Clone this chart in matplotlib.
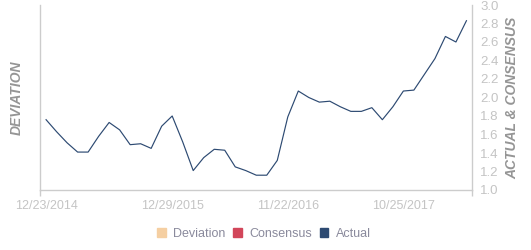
import matplotlib.pyplot as plt
from matplotlib.patches import Patch

plt.rcParams['font.family'] = ['Liberation Sans', 'DejaVu Sans']

# actual values, one per report (about monthly)
actual = [1.76, 1.63, 1.51, 1.41, 1.41, 1.58, 1.73, 1.65, 1.49, 1.50,
          1.45, 1.69, 1.80, 1.52, 1.21, 1.35, 1.44, 1.43, 1.25, 1.21,
          1.16, 1.16, 1.32, 1.79, 2.07, 2.00, 1.95, 1.96, 1.90, 1.85,
          1.85, 1.89, 1.76, 1.90, 2.07, 2.08, 2.25, 2.42, 2.66, 2.60,
          2.83]
date_ticks = [0, 12, 23, 34]
date_labels = ["12/23/2014", "12/29/2015", "11/22/2016", "10/25/2017"]
y_ticks = [1.0, 1.2, 1.4, 1.6, 1.8, 2.0, 2.2, 2.4, 2.6, 2.8, 3.0]

legend_names = ["Deviation", "Consensus", "Actual"]
legend_colors = ["#f5cfa2", "#d2465a", "#2d4a72"]

grey = "#cccccc"
label_grey = "#c4c4c4"
title_grey = "#959595"

fig = plt.figure(figsize=(5.31, 2.5), dpi=100)
ax = fig.add_axes([0.0759, 0.24, 0.8124, 0.74])

x = list(range(len(actual)))
ax.plot(x, actual, color="#2d4a72", linewidth=0.85)

ax.set_xlim(-0.55, len(actual) - 0.5)
ax.set_ylim(1.0, 3.0)

ax.spines["top"].set_visible(False)
for s in ["left", "right", "bottom"]:
    ax.spines[s].set_color(grey)
    ax.spines[s].set_linewidth(1)

# x axis: labels without ticks, small ticks only at the ends
ax.set_xticks(date_ticks)
ax.set_xticklabels(date_labels)
ax.set_xticks([-0.55, len(actual) - 0.5], minor=True)
ax.tick_params(axis="x", which="major", length=0, pad=7, labelsize=9, labelcolor=label_grey)
ax.tick_params(axis="x", which="minor", length=4, width=1, color=grey)

# y axis: labels on the right, ticks only at the ends on both sides
ax.set_yticks(y_ticks)
ax.set_yticklabels(["%.1f" % v for v in y_ticks])
ax.set_yticks([1.0, 3.0], minor=True)
ax.tick_params(axis="y", which="major", length=0, pad=6, labelsize=9.5, labelcolor=label_grey,
               left=False, right=False, labelleft=False, labelright=True)
ax.tick_params(axis="y", which="minor", length=5, width=1, color=grey, left=True, right=True)

ax.text(-0.054, 0.5, "DEVIATION", transform=ax.transAxes, rotation=90,
        ha="center", va="center", fontsize=10, fontweight="bold", fontstyle="italic", color=title_grey)
ax.text(1.093, 0.5, "ACTUAL & CONSENSUS", transform=ax.transAxes, rotation=90,
        ha="center", va="center", fontsize=10, fontweight="bold", fontstyle="italic", color=title_grey)

handles = [Patch(facecolor=c, edgecolor=c) for c in legend_colors]
fig.legend(handles, legend_names, loc="center", bbox_to_anchor=(264 / 531, 1 - 234 / 250),
           ncol=3, frameon=False, fontsize=9, labelcolor="#8a8a9c",
           handlelength=0.7, handleheight=0.7, handletextpad=0.6, columnspacing=0.6)

plt.savefig("out.png", dpi=100)
